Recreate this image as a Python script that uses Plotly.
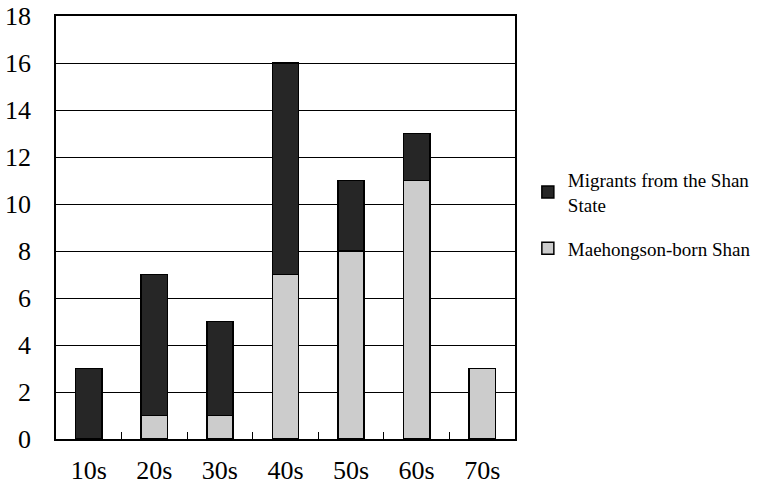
import plotly.graph_objects as go

categories = ["10s", "20s", "30s", "40s", "50s", "60s", "70s"]
maehongson = [0, 1, 1, 7, 8, 11, 3]
migrants = [3, 6, 4, 9, 3, 2, 0]
y_ticks = list(range(0, 19, 2))

fig = go.Figure()
fig.add_trace(go.Bar(
    x=categories, y=maehongson, name="Maehongson-born Shan",
    legendgroup="b", legendrank=2,
    marker=dict(color="#cccccc", line=dict(color="black", width=1.5)),
    width=0.4,
))
fig.add_trace(go.Bar(
    x=categories, y=migrants, name="Migrants from the Shan<br>State",
    legendgroup="a", legendrank=1,
    marker=dict(color="#262626", line=dict(color="black", width=1.5)),
    width=0.4,
))

fig.update_layout(
    barmode="stack",
    width=759, height=486,
    margin=dict(l=56, r=244, t=16, b=47, autoexpand=False),
    paper_bgcolor="white", plot_bgcolor="white",
    font=dict(family="Liberation Serif", color="black"),
    showlegend=True,
    legend=dict(
        x=1.028, y=0.531, xanchor="left", yanchor="middle",
        font=dict(size=19, family="Liberation Serif"),
        traceorder="grouped", tracegroupgap=16,
        itemwidth=30,
    ),
    xaxis=dict(
        type="category", showgrid=False, showline=True, linecolor="black",
        linewidth=1.5, mirror=True, tickson="boundaries", ticks="inside",
        ticklen=7, tickcolor="black", tickwidth=1, automargin=False,
        tickfont=dict(size=26, family="Liberation Serif"),
        ticklabelstandoff=7,
    ),
    yaxis=dict(
        range=[0, 18], tickvals=y_ticks, showgrid=True, gridcolor="black",
        gridwidth=1, showline=True, linecolor="black", linewidth=1.5,
        mirror=True, ticks="", zeroline=False, automargin=False,
        tickfont=dict(size=26, family="Liberation Serif"),
        ticklabelstandoff=18,
    ),
)

fig.write_html(
    "out.html",
    config={"displayModeBar": False},
    post_script="document.body.style.margin='0';document.body.style.overflow='hidden';",
)
